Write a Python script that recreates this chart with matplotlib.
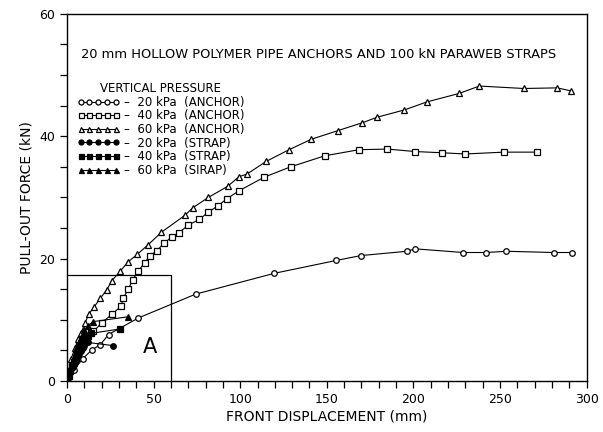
import matplotlib
matplotlib.use("Agg")
import matplotlib.pyplot as plt
from matplotlib.ticker import MultipleLocator, FixedLocator, FuncFormatter

plt.rcParams['font.family'] = ['DejaVu Sans']

# ---- data (front displacement mm, pull-out force kN) ----
anchor20_x = [0, 4, 9, 14.4, 19.2, 24, 41.2, 74.3, 119.7, 155.4, 169.7, 196.2, 201,
              228.7, 242.1, 253.6, 280.9, 291.4]
anchor20_y = [0, 1.8, 3.6, 5.1, 5.9, 7.6, 10.3, 14.2, 17.6, 19.7, 20.5, 21.2, 21.6,
              21.0, 21.0, 21.2, 21.0, 21.0]

anchor40_x = [0, 3, 6, 11, 15.3, 20.1, 25.9, 31.2, 32.6, 35.4, 37.9, 41.2, 44.8, 47.7,
              51.9, 56.3, 60.5, 64.5, 70.1, 76.4, 81.6, 87, 92.4, 99.4, 113.8, 129.1,
              148.8, 168.6, 185, 200.8, 216.2, 229.8, 252.3, 271.5]
anchor40_y = [0, 2.5, 4.4, 6.6, 8.1, 9.5, 10.9, 12.2, 13.6, 15.0, 16.5, 18.0, 19.3, 20.4,
              21.3, 22.6, 23.5, 24.2, 25.5, 26.4, 27.6, 28.6, 29.8, 31.1, 33.3, 35.0,
              36.8, 37.8, 37.9, 37.5, 37.3, 37.1, 37.4, 37.4]

anchor60_x = [0, 2.4, 4.6, 6.5, 8.2, 10.5, 12.5, 15.7, 19.2, 23, 25.9, 30.7, 35, 40.6,
              47, 54.5, 68.2, 72.6, 81.6, 92.7, 99.4, 103.8, 115.1, 128.2, 141, 156.2,
              170.5, 179, 194.8, 207.7, 226.5, 238, 263.6, 283, 291]
anchor60_y = [0, 3.6, 5.4, 6.8, 7.9, 9.5, 10.9, 12.1, 13.5, 14.9, 16.4, 17.9, 19.4, 20.7,
              22.3, 24.3, 27.1, 28.3, 30.0, 31.8, 33.4, 33.8, 35.9, 37.8, 39.5, 40.9,
              42.2, 43.1, 44.3, 45.6, 47.0, 48.2, 47.8, 47.9, 47.4]

strap20_x = [0, 1, 2, 3, 4, 5, 6, 7, 8, 9, 10, 12, 26.3]
strap20_y = [0, 0.7, 1.4, 2.1, 2.7, 3.3, 3.9, 4.4, 4.9, 5.4, 5.8, 6.3, 5.8]

strap40_x = [0, 1, 2, 3, 4, 5, 6, 7, 8, 9, 10, 12, 14, 30.7]
strap40_y = [0, 0.8, 1.6, 2.4, 3.1, 3.8, 4.5, 5.1, 5.7, 6.3, 6.8, 7.3, 7.8, 8.5]

strap60_x = [0, 1, 2, 3, 4, 5, 6, 7, 8, 9, 10, 12, 15, 35.4]
strap60_y = [0, 1.0, 2.0, 2.9, 3.8, 4.7, 5.5, 6.3, 7.0, 7.7, 8.3, 9.0, 9.7, 10.5]

labels = ["–  20 kPa  (ANCHOR)", "–  40 kPa  (ANCHOR)", "–  60 kPa  (ANCHOR)",
          "–  20 kPa  (STRAP)", "–  40 kPa  (STRAP)", "–  60 kPa  (SIRAP)"]

# region "A"
box_x = 60
box_y = 17.3

x_major = [0, 50, 100, 150, 200, 250, 300]
y_labels = [0, 20, 40, 60]

# ---- figure ----
fig = plt.figure(figsize=(6.03, 4.32), dpi=100)
ax = fig.add_axes([0.111, 0.118, 0.862, 0.850])

lw = 0.8
ms = 4.0
series = [
    (anchor20_x, anchor20_y, 'o', 'white'),
    (anchor40_x, anchor40_y, 's', 'white'),
    (anchor60_x, anchor60_y, '^', 'white'),
    (strap20_x, strap20_y, 'o', 'black'),
    (strap40_x, strap40_y, 's', 'black'),
    (strap60_x, strap60_y, '^', 'black'),
]
handles = []
for (x, y, m, fc), lab in zip(series, labels):
    h, = ax.plot(x, y, color='black', lw=lw, marker=m, ms=ms, mfc=fc, mec='black',
                 mew=0.9, label=lab)
    handles.append(h)

# region A box
ax.plot([0, box_x, box_x], [box_y, box_y, 0], color='black', lw=0.9)
ax.text(47.8, 5.5, "A", fontsize=15, ha='center', va='center')

ax.set_xlim(0, 300)
ax.set_ylim(0, 60)

ax.xaxis.set_major_locator(FixedLocator(x_major))
ax.xaxis.set_minor_locator(MultipleLocator(10))
ax.yaxis.set_major_locator(MultipleLocator(5))
ax.yaxis.set_major_formatter(FuncFormatter(lambda v, p: f"{int(round(v))}" if int(round(v)) in y_labels else ""))
ax.tick_params(axis='both', which='major', direction='out', length=5, width=0.9, labelsize=9)
ax.tick_params(axis='x', which='minor', direction='out', length=5, width=0.9)

for s in ax.spines.values():
    s.set_linewidth(1.0)

ax.set_xlabel("FRONT DISPLACEMENT (mm)", fontsize=10, labelpad=3)
ax.set_ylabel("PULL-OUT FORCE (kN)", fontsize=10, labelpad=4)

ax.text(145, 53.3, "20 mm HOLLOW POLYMER PIPE ANCHORS AND 100 kN PARAWEB STRAPS",
        fontsize=9.4, ha='center', va='center')

leg = ax.legend(handles=handles, loc='upper left', bbox_to_anchor=(0.008, 0.83),
                frameon=False, numpoints=5, handlelength=3.6, handletextpad=0.4,
                labelspacing=0.05, borderpad=0, fontsize=8.5,
                title="VERTICAL PRESSURE", title_fontsize=8.5, markerscale=0.9)
leg._legend_box.align = "center"

fig.savefig("out.png", dpi=100)
